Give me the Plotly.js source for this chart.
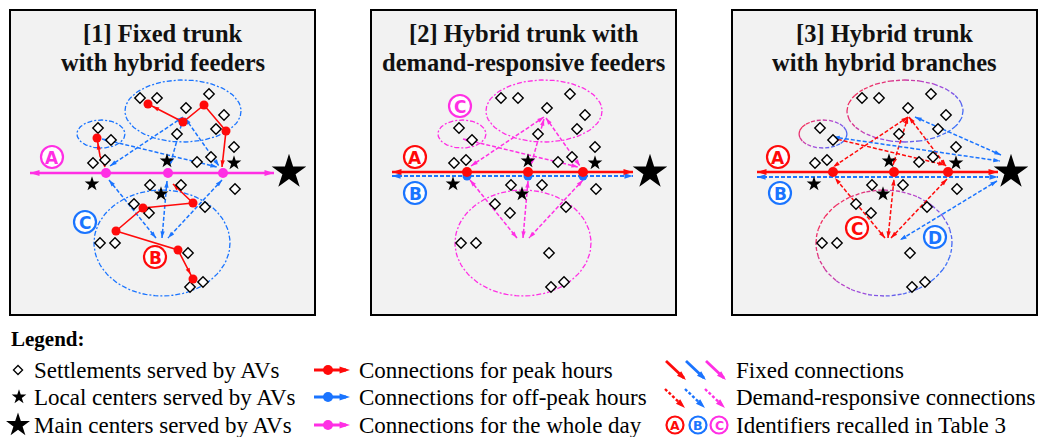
<!DOCTYPE html>
<html><head><meta charset="utf-8">
<script src="https://cdn.plot.ly/plotly-3.0.1.min.js"></script>
<style>html,body{margin:0;padding:0;background:#fff;}#chart{width:1039px;height:437px;}</style>
</head><body><div id="chart"></div>
<script>
// ---------------- DATA (panel-local pixel frame, y grows downward) ----------------
const settlementX = [140,157,209,186,224,216,177,98,111,234,211,197,105,93,150,181,235,134,149,205,100,115,188,203,190];
const settlementY = [98,98,94,108,115,129,134,128,140,147,157,162,160,163,185,185,189,204,213,207,243,243,253,282,287];
const localCenterX = [167,234,92,161];
const localCenterY = [161,163,184,194];
const mainCenterX = [289];
const mainCenterY = [172];

const ellipseCX = [183,101,162];
const ellipseCY = [111,134,243];
const ellipseRX = [58,24,68];
const ellipseRY = [31,14,53];

const trunkStartX = [30,31,35];
const trunkEndX = [274,272,276];
const trunkMainY = [173,172,172];
const trunkOffpeakY = [null,176,177];
const trunkNodeX = [[106,168,223],[106,167,222],[111,172,226]];

// feeder connections (panel 1 off-peak, panel 2 whole day), double-headed
const feederFromX = [183,183,185,102,109,167,222];
const feederFromY = [117,119,118,139,180,181,180];
const feederToX = [110,170,219,217,156,162,168];
const feederToY = [166,165,166,167,238,238,238];

// panel 1 fixed peak-hour routes
const peakRouteX = [[148,183,204,226,222],[105,100,97],[173,193,143,116,178,193]];
const peakRouteY = [[104,122,105,131,167],[167,156,138],[184,203,208,231,250,279]];
const peakRouteStops = [[1,1,1,1,0],[0,0,1],[0,1,1,1,1,1]];
const peakRouteHeads = [[1,1],[0,1],[1,1]];

// panel 3 branches
const branchPeakFromX = [186,186,187,110,163,166,169];
const branchPeakFromY = [117,117,117,138,238,238,238];
const branchPeakToX = [111,171,224,223,113,172,225];
const branchPeakToY = [167,165,166,165,178,179,179];
const branchOffFromX = [111,193,275];
const branchOffFromY = [137,117,181];
const branchOffToX = [278,279,178];
const branchOffToY = [161,155,240];

// identifiers (circled letters)
const idText = [['A','C','B'],['A','B','C'],['A','B','C','D']];
const idX = [[52,85,155],[54,54,99],[56,58,135,213]];
const idY = [[157,222,257],[157,193,106],[157,193,228,237]];
const idColorKey = [['mag','blue','red'],['red','blue','mag'],['red','blue','red','blue']];

const panelTitles = [['[1] Fixed trunk','with hybrid feeders'],['[2] Hybrid trunk with','demand-responsive feeders'],['[3] Hybrid trunk','with hybrid branches']];

const legendMarkerLabels = ['Settlements served by AVs','Local centers served by AVs','Main centers served by AVs'];
const legendConnLabels = ['Connections for peak hours','Connections for off-peak hours','Connections for the whole day'];
const legendTypeLabels = ['Fixed connections','Demand-responsive connections','Identifiers recalled in Table 3'];
const legendIdText = ['A','B','C'];

// ---------------- STYLE ----------------
const RED = '#ff0a0a', BLUE = '#1a74ff', MAG = '#ff2fe4';
const COL = {red:RED, blue:BLUE, mag:MAG};
const SERIF = 'Liberation Serif, Times New Roman, serif';
const DASH = '4px,2px';
const EDASH = '5px,2px,2px,2px';
const AX = [['x','y'],['x2','y2'],['x3','y3'],['x4','y4']];
const W = 1039, H = 437;
const panelLeft = [10,371,732], panelTop = 10, panelSize = 305;

const traces = [], annotations = [], shapes = [];

function ax(p){ return {xaxis:AX[p][0], yaxis:AX[p][1], hoverinfo:'skip', showlegend:false, cliponaxis:false}; }
function addLine(p, xs, ys, color, width, dash){
  traces.push(Object.assign({type:'scatter', mode:'lines', x:xs, y:ys, line:{color:color, width:width, dash:dash||'solid'}}, ax(p)));
}
function angleOf(x0,y0,x1,y1){ return Math.atan2(x1-x0, -(y1-y0))*180/Math.PI; }
function addHeads(p, tipX, tipY, fromX, fromY, color, size){
  traces.push(Object.assign({type:'scatter', mode:'markers', x:tipX, y:tipY,
    marker:{symbol:'arrow', size:size, color:color, line:{width:0},
      angle: tipX.map((x,i)=>angleOf(fromX[i],fromY[i],x,tipY[i]))}}, ax(p)));
}
function addMarkers(p, xs, ys, symbol, size, color, lineColor, lineWidth){
  traces.push(Object.assign({type:'scatter', mode:'markers', x:xs, y:ys,
    marker:{symbol:symbol, size:size, color:color, line:{color:lineColor||color, width:lineWidth||0}}}, ax(p)));
}
function addCircledLetters(p, letters, xs, ys, colors, size, fontSize){
  traces.push(Object.assign({type:'scatter', mode:'markers', x:xs, y:ys,
    marker:{symbol:'circle', size:size, color:'rgba(255,255,255,0.9)', line:{color:colors, width:2.2}}}, ax(p)));
  letters.forEach((t,i)=>annotations.push({xref:AX[p][0], yref:AX[p][1], x:xs[i], y:ys[i]+0.5, text:'<b>'+t+'</b>',
    showarrow:false, xanchor:'center', yanchor:'middle', font:{family:'DejaVu Sans, Arial, sans-serif', size:fontSize, color:colors[i]}}));
}
function backoff(x0,y0,x1,y1,d){
  const L = Math.hypot(x1-x0,y1-y0); return [x1-(x1-x0)/L*d, y1-(y1-y0)/L*d];
}
function dblArrow(p, x0,y0,x1,y1,color,width,dash,size){
  addLine(p,[x0,x1],[y0,y1],color,width,dash);
  addHeads(p,[x1,x0],[y1,y0],[x0,x1],[y0,y1],color,size);
}
function ellipsePts(cx,cy,rx,ry,t0,t1,n){
  const xs=[],ys=[];
  for(let i=0;i<=n;i++){ const t=t0+(t1-t0)*i/n; xs.push(cx+rx*Math.cos(t)); ys.push(cy+ry*Math.sin(t)); }
  return [xs,ys];
}
function mix(a,b,t){ return a.map((v,i)=>Math.round(v+(b[i]-v)*t)); }
function gradColor(t){
  const r=[255,40,70], m=[175,70,215], b=[35,120,255];
  const c = t<0.5 ? mix(r,m,t/0.5) : mix(m,b,(t-0.5)/0.5);
  return 'rgb('+c.join(',')+')';
}

// ---------------- PANELS ----------------
for(let p=0;p<3;p++){
  shapes.push({type:'rect', xref:AX[p][0]+' domain', yref:AX[p][1]+' domain', x0:0, x1:1, y0:0, y1:1,
    fillcolor:'#f2f2f2', line:{color:'#000', width:2}, layer:'below'});
  for(let e=0;e<ellipseCX.length;e++){
    if(p<2){
      const [xs,ys]=ellipsePts(ellipseCX[e],ellipseCY[e],ellipseRX[e],ellipseRY[e],0,2*Math.PI,90);
      addLine(p,xs,ys,p===0?BLUE:MAG,1.3,EDASH);
    } else {
      const nSeg=24;
      for(let s=0;s<nSeg;s++){
        const t0=2*Math.PI*s/nSeg, t1=2*Math.PI*(s+1)/nSeg, tm=(t0+t1)/2;
        const [xs,ys]=ellipsePts(ellipseCX[e],ellipseCY[e],ellipseRX[e],ellipseRY[e],t0,t1,6);
        const tt = Math.min(1,Math.max(0,0.5+0.5*(0.72*Math.cos(tm)+0.42*Math.sin(tm))));
        addLine(p,xs,ys,gradColor(tt),1.3,'4px,2px');
      }
    }
  }
}

for(let p=0;p<2;p++){
  const c = p===0?BLUE:MAG;
  for(let i=0;i<feederFromX.length;i++) dblArrow(p,feederFromX[i],feederFromY[i],feederToX[i],feederToY[i],c,1.5,DASH,7);
}
for(let r=0;r<peakRouteX.length;r++){
  const xs=peakRouteX[r], ys=peakRouteY[r], n=xs.length;
  addLine(0,xs,ys,RED,1.6,'solid');
  if(peakRouteHeads[r][0]){
    const tip = peakRouteStops[r][0] ? backoff(xs[1],ys[1],xs[0],ys[0],5) : [xs[0],ys[0]];
    addHeads(0,[tip[0]],[tip[1]],[xs[1]],[ys[1]],RED,7);
  }
  if(peakRouteHeads[r][1]){
    const tip = peakRouteStops[r][n-1] ? backoff(xs[n-2],ys[n-2],xs[n-1],ys[n-1],5) : [xs[n-1],ys[n-1]];
    addHeads(0,[tip[0]],[tip[1]],[xs[n-2]],[ys[n-2]],RED,7);
  }
}
for(let i=0;i<branchPeakFromX.length;i++) dblArrow(2,branchPeakFromX[i],branchPeakFromY[i],branchPeakToX[i],branchPeakToY[i],RED,1.5,DASH,7);
for(let i=0;i<branchOffFromX.length;i++) dblArrow(2,branchOffFromX[i],branchOffFromY[i],branchOffToX[i],branchOffToY[i],BLUE,1.5,DASH,7);

for(let p=0;p<3;p++){
  const mainC = p===0?MAG:RED;
  if(trunkOffpeakY[p]!==null){
    dblArrow(p,trunkStartX[p],trunkOffpeakY[p],trunkEndX[p],trunkOffpeakY[p],BLUE,1.8,DASH,9);
  }
  dblArrow(p,trunkStartX[p],trunkMainY[p],trunkEndX[p],trunkMainY[p],mainC,2.6,'solid',10);
}
for(let p=0;p<3;p++){
  addMarkers(p,settlementX,settlementY,'diamond',8,'#fff','#000',1.4);
  addMarkers(p,localCenterX,localCenterY,'star',11,'#000');
  addMarkers(p,mainCenterX,mainCenterY,'star',26,'#000');
}
const routeStopX=[], routeStopY=[];
for(let r=0;r<peakRouteX.length;r++) peakRouteX[r].forEach((x,i)=>{ if(peakRouteStops[r][i]){ routeStopX.push(x); routeStopY.push(peakRouteY[r][i]); } });
addMarkers(0,routeStopX,routeStopY,'circle',9,RED);
addMarkers(0,trunkNodeX[0],trunkNodeX[0].map(()=>trunkMainY[0]),'circle',10,MAG);
addMarkers(1,trunkNodeX[1],trunkNodeX[1].map(()=>trunkOffpeakY[1]),'circle',9,BLUE);
addMarkers(1,trunkNodeX[1],trunkNodeX[1].map(()=>trunkMainY[1]),'circle',10,RED);
addMarkers(2,trunkNodeX[2],trunkNodeX[2].map(()=>trunkMainY[2]),'circle',10,RED);

for(let p=0;p<3;p++){
  panelTitles[p].forEach((t,i)=>annotations.push({xref:AX[p][0],yref:AX[p][1],x:162.5,y:33+i*29,text:'<b>'+t+'</b>',
    showarrow:false,xanchor:'center',yanchor:'middle',font:{family:SERIF,size:24.5,color:'#111'}}));
  addCircledLetters(p, idText[p], idX[p], idY[p], idColorKey[p].map(k=>COL[k]), 22, 17);
}

// ---------------- LEGEND (pixel frame on x4/y4) ----------------
const rowY=[370,397,425];
annotations.push({xref:'x4',yref:'y4',x:9,y:339,text:'<b>Legend:</b>',showarrow:false,xanchor:'left',yanchor:'middle',font:{family:SERIF,size:21,color:'#000'}});
addMarkers(3,[18],[rowY[0]],'diamond',7,'#fff','#000',1.3);
addMarkers(3,[19],[rowY[1]],'star',11,'#000');
addMarkers(3,[18],[rowY[2]],'star',18,'#000');
legendMarkerLabels.forEach((t,i)=>annotations.push({xref:'x4',yref:'y4',x:32,y:rowY[i],text:t,showarrow:false,xanchor:'left',yanchor:'middle',font:{family:SERIF,size:23,color:'#000'}}));
[RED,BLUE,MAG].forEach((c,i)=>{
  addLine(3,[314,346],[rowY[i],rowY[i]],c,3,'solid');
  addMarkers(3,[328],[rowY[i]],'circle',10,c);
  addHeads(3,[350],[rowY[i]],[330],[rowY[i]],c,11);
});
legendConnLabels.forEach((t,i)=>annotations.push({xref:'x4',yref:'y4',x:357,y:rowY[i],text:t,showarrow:false,xanchor:'left',yanchor:'middle',font:{family:SERIF,size:23,color:'#000'}}));
[RED,BLUE,MAG].forEach((c,i)=>{
  const x0=666+i*20;
  addLine(3,[x0,x0+18],[361,378],c,2.8,'solid');
  addHeads(3,[x0+20],[380],[x0],[361],c,10);
  addLine(3,[x0-1,x0+17],[389,406],c,2.4,'3px,2px');
  addHeads(3,[x0+19],[408],[x0-1],[389],c,10);
});
addCircledLetters(3, legendIdText, [675,698,719], [rowY[2],rowY[2],rowY[2]], [RED,BLUE,MAG], 17, 12.5);
legendTypeLabels.forEach((t,i)=>annotations.push({xref:'x4',yref:'y4',x:734,y:rowY[i],text:t,showarrow:false,xanchor:'left',yanchor:'middle',font:{family:SERIF,size:23,color:'#000'}}));

// ---------------- LAYOUT ----------------
function hid(extra){ return Object.assign({visible:false, fixedrange:true, showgrid:false, zeroline:false}, extra); }
const layout = {
  width:W, height:H, margin:{l:0,r:0,t:0,b:0}, paper_bgcolor:'#fff', plot_bgcolor:'rgba(0,0,0,0)',
  showlegend:false, shapes:shapes, annotations:annotations,
  yaxis4: hid({domain:[0,117/H], range:[437,320], anchor:'x4'}),
  xaxis4: hid({domain:[0,1], range:[0,1039], anchor:'y4'})
};
for(let p=0;p<3;p++){
  const sx = p===0?'':String(p+1);
  layout['xaxis'+sx] = hid({domain:[panelLeft[p]/W,(panelLeft[p]+panelSize)/W], range:[10,315], anchor:'y'+sx});
  layout['yaxis'+sx] = hid({domain:[1-(panelTop+panelSize)/H,1-panelTop/H], range:[315,10], anchor:'x'+sx});
}
Plotly.newPlot('chart', traces, layout, {staticPlot:true, displayModeBar:false});
</script></body></html>
